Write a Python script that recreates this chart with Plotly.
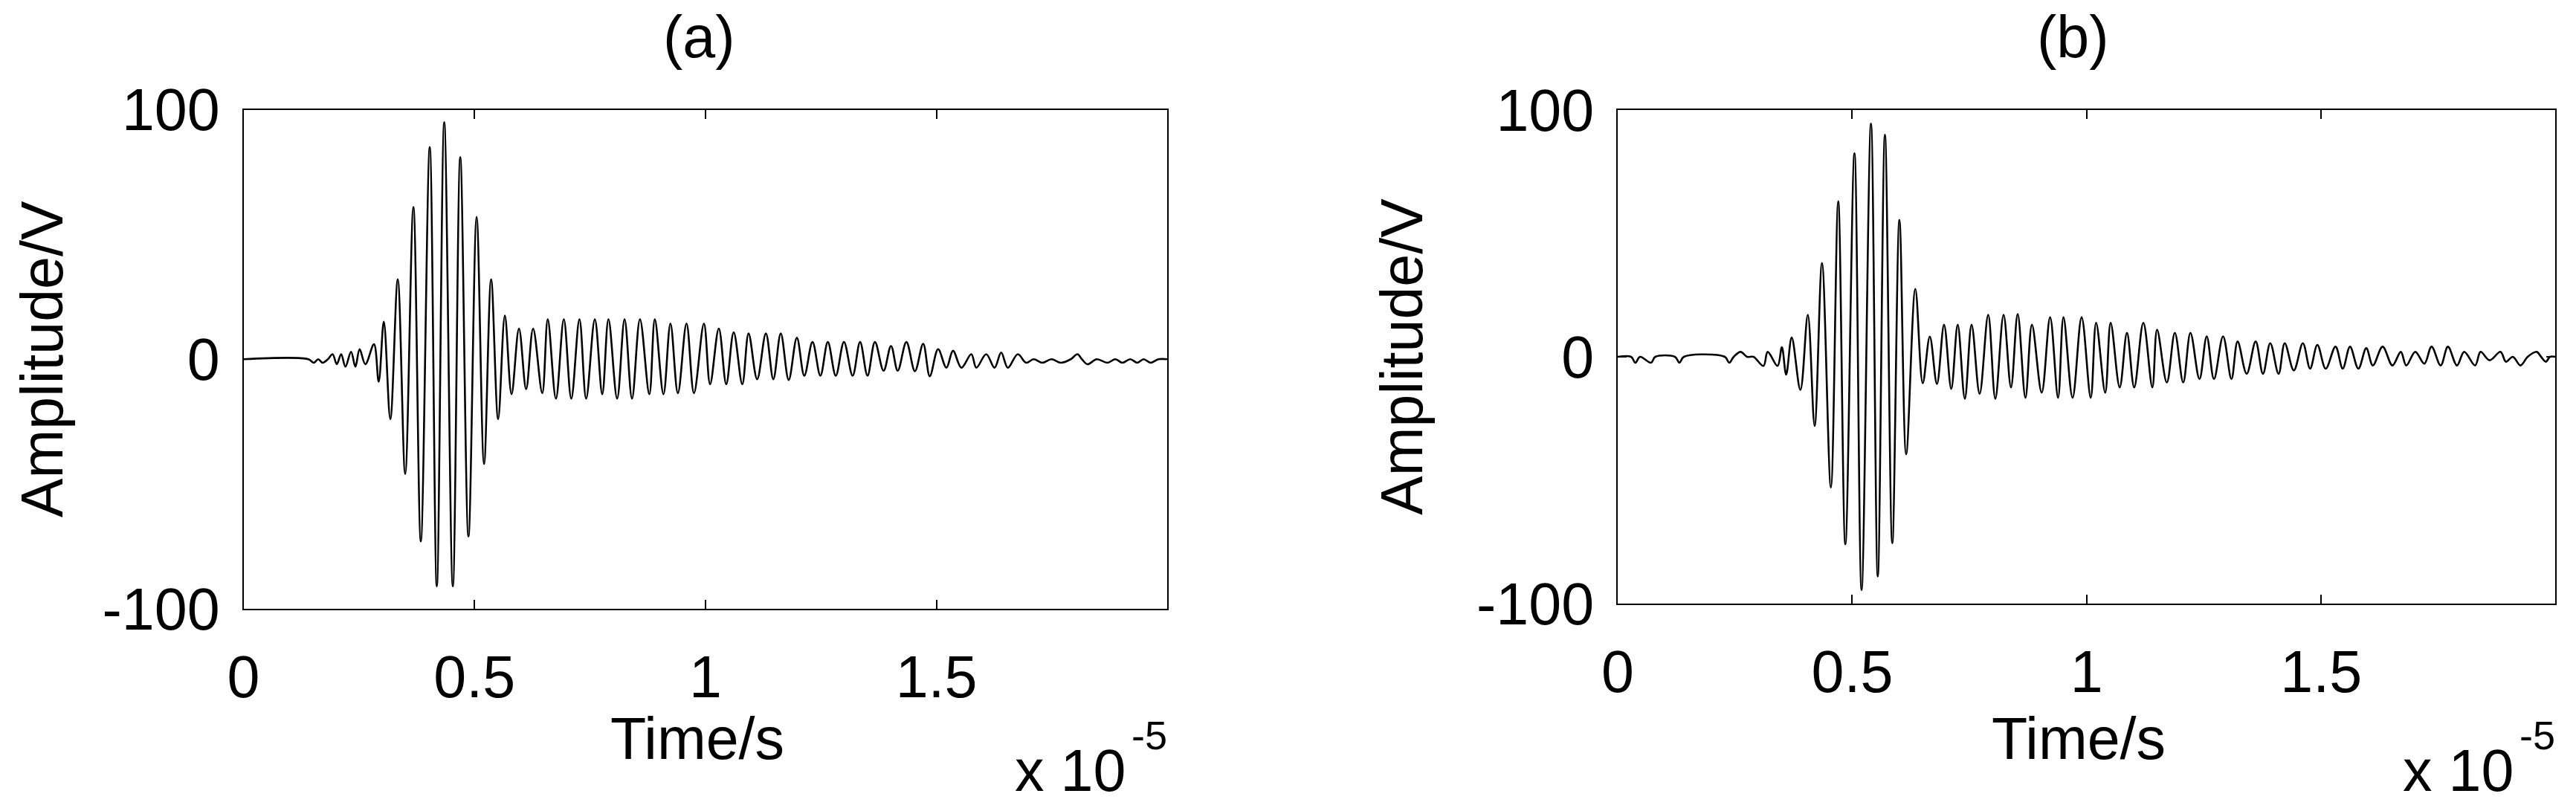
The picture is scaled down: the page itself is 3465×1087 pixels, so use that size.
import plotly.graph_objects as go

# ---- data: half-cycle peak times (microseconds) and amplitudes (V) ----
time_a_us = [0.000, 1.405, 1.521, 1.618, 1.714, 1.827, 1.929, 2.020, 2.114, 2.207, 2.329, 2.423, 2.514, 2.638,
             2.825, 2.927, 3.038, 3.179, 3.340, 3.501, 3.678, 3.839, 4.032, 4.185, 4.346, 4.532, 4.693, 4.870,
             5.047, 5.208, 5.361, 5.513, 5.658, 5.803, 5.964, 6.119, 6.270, 6.468, 6.587, 6.764, 6.935, 7.096,
             7.273, 7.418, 7.606, 7.767, 7.901, 8.089, 8.250, 8.411, 8.583, 8.786, 8.905, 9.092, 9.243, 9.404,
             9.591, 9.752, 9.968, 10.101, 10.290, 10.451, 10.612, 10.798, 10.934, 11.120, 11.309, 11.470,
             11.631, 11.803, 11.980, 12.141, 12.318, 12.489, 12.650, 12.822, 12.999, 13.187, 13.348, 13.509,
             13.670, 13.857, 14.018, 14.163, 14.351, 14.535, 14.714, 14.857, 15.037, 15.217, 15.360, 15.541,
             15.756, 15.864, 16.079, 16.259, 16.402, 16.547, 16.762, 16.943, 17.104, 17.297, 17.490, 17.696,
             17.909, 18.054, 18.150, 18.271, 18.472, 18.702, 18.875, 19.026, 19.197, 19.350, 19.486, 19.636,
             19.808, 19.995]
amp_a = [0, 0, -1.4, 0, -1.4, 0, 2, -2, 2, -3, 3, -3, 4, -2,
         6, -9, 15, -24, 32, -46, 61, -73, 85, -91, 95, -91, 81, -71,
         57, -42, 32, -24, 17.5, -14, 12.3, -12, 12.3, -13.6, 16, -15.8, 16, -15.8,
         16, -15.8, 16, -14, 16, -15.8, 16, -15.8, 16, -14, 16, -14, 14.3, -13.6,
         14.3, -13.6, 14.3, -10, 12.3, -10, 10.8, -10, 10.3, -8, 10.3, -8,
         10.3, -8.3, 8.6, -6.6, 6.9, -6.6, 6.9, -6.6, 6.9, -6.6, 6.9, -6.6,
         6.9, -4.6, 5.3, -4.6, 6.9, -4.8, 6.2, -6.8, 4, -3.4, 3.4, -3.4,
         2, -3.4, 2, -3.4, 2.7, -3.4, 2, -1.4, 0, -1.4, 0, -1.4,
         0, 2, 0, -2, 0, -1.4, 0, -1.4, 0, -1.4, 0, -1.4,
         0, 0]

time_b_us = [0.000, 0.285, 0.376, 0.476, 0.710, 0.801, 1.221, 1.316, 1.411, 2.283, 2.378, 2.473, 2.621, 2.758,
             2.895, 3.107, 3.198, 3.408, 3.500, 3.592, 3.710, 3.895, 4.054, 4.199, 4.356, 4.545, 4.702, 4.854,
             5.048, 5.200, 5.400, 5.545, 5.698, 5.855, 6.007, 6.151, 6.346, 6.504, 6.655, 6.807, 6.959, 7.112,
             7.250, 7.402, 7.546, 7.717, 7.900, 8.052, 8.228, 8.386, 8.529, 8.694, 8.833, 9.041, 9.220, 9.390,
             9.505, 9.699, 9.892, 10.086, 10.201, 10.395, 10.511, 10.704, 10.859, 11.013, 11.208, 11.400,
             11.501, 11.709, 11.880, 12.058, 12.212, 12.405, 12.560, 12.714, 12.908, 13.087, 13.218, 13.412,
             13.603, 13.759, 13.914, 14.092, 14.223, 14.417, 14.610, 14.764, 14.919, 15.097, 15.306, 15.460,
             15.615, 15.793, 15.962, 16.102, 16.311, 16.519, 16.698, 16.814, 17.007, 17.200, 17.354, 17.548,
             17.703, 17.896, 18.050, 18.283, 18.399, 18.592, 18.824, 18.940, 19.087, 19.249, 19.404, 19.597,
             19.689, 19.791, 19.880, 19.990]
amp_b = [0, 0, -2.4, 0, -2.4, 0, 0, -2.4, 0, 0, -2.4, 0, 2, 0,
         0, -3.7, 2, -3.7, 3.9, -7.2, 7.8, -13.4, 17, -28, 38, -53, 63, -76,
         82.5, -94.5, 94.5, -89, 90, -75.5, 55.5, -39.5, 27.5, -10.7, 8.2, -11, 13, -13,
         13, -17, 13, -15, 17, -17, 17, -12.4, 17.3, -16.6, 13, -14.5, 16, -16.6,
         16, -16.6, 16, -16.6, 13.8, -14.5, 13.8, -12.4, 9.7, -12.4, 13.8, -12.4,
         11, -10.4, 9.7, -10.4, 9.7, -9, 8.3, -9, 8.3, -9, 6.2, -6.9,
         6.2, -6.9, 5.5, -6.9, 5.5, -5.5, 5.5, -4.8, 4.8, -4.8, 4.1, -4.8,
         4.1, -4.8, 3.5, -3.5, 4.1, -3.5, 2, -3.5, 2, -2.8, 4.1, -3.5,
         4.1, -3.5, 2, -3.5, 2, -1.4, 2, -2, 0, -3.5, 0, 2,
         0, -2, 0, 0]

x_tick_values = [0, 0.5e-5, 1.0e-5, 1.5e-5]
x_tick_labels = ["0", "0.5", "1", "1.5"]
y_tick_values = [-100, 0, 100]
y_tick_labels = ["-100", "0", "100"]
panel_titles = ["(a)", "(b)"]
x_label = "Time/s"
y_label = "Amplitude/V"

W, H = 3465, 1087
FONT = "Liberation Sans, Arial, sans-serif"
FS = 79

fig = go.Figure()
fig.add_trace(go.Scatter(x=[t * 1e-6 for t in time_a_us], y=amp_a, mode="lines",
                         line=dict(color="black", width=2.6, shape="spline", smoothing=1),
                         xaxis="x", yaxis="y", showlegend=False, hoverinfo="skip"))
fig.add_trace(go.Scatter(x=[t * 1e-6 for t in time_b_us], y=amp_b, mode="lines",
                         line=dict(color="black", width=2.6, shape="spline", smoothing=1),
                         xaxis="x2", yaxis="y2", showlegend=False, hoverinfo="skip"))

def px_x(p):
    return p / W

def px_y(p):
    return (H - p) / H

axis_common = dict(showline=True, linecolor="black", linewidth=2, mirror="ticks",
                   ticks="inside", ticklen=12, tickwidth=2, tickcolor="black",
                   showgrid=False, zeroline=False, automargin=False,
                   tickfont=dict(family=FONT, size=FS, color="black"))

panels = [
    dict(x0=327.5, x1=1569.6, y0=147.5, y1=819.0, title_x=940, xlabel_x=938, ylabel_x=56),
    dict(x0=2176.0, x1=3437.0, y0=148.0, y1=812.0, title_x=2788, xlabel_x=2796, ylabel_x=1886),
]

layout = dict(width=W, height=H, autosize=False, margin=dict(l=0, r=0, t=0, b=0, pad=0),
              paper_bgcolor="white", plot_bgcolor="white", showlegend=False)
for i, p in enumerate(panels):
    sx = "" if i == 0 else "2"
    layout["xaxis" + sx] = dict(axis_common, domain=[px_x(p["x0"]), px_x(p["x1"])],
                                range=[0, 1.999e-5], tickvals=x_tick_values, ticktext=x_tick_labels,
                                anchor="y" + sx, ticklabelstandoff=22)
    layout["yaxis" + sx] = dict(axis_common, domain=[px_y(p["y1"]), px_y(p["y0"])],
                                range=[-100, 100], tickvals=y_tick_values, ticktext=y_tick_labels,
                                anchor="x" + sx, ticklabelstandoff=14)
fig.update_layout(**layout)

ann = []
for i, p in enumerate(panels):
    cy = (p["y0"] + p["y1"]) / 2
    ann.append(dict(text=panel_titles[i], x=px_x(p["title_x"]), y=px_y(50), xref="paper", yref="paper",
                    xanchor="center", yanchor="middle", showarrow=False,
                    font=dict(family=FONT, size=FS, color="black")))
    ann.append(dict(text=x_label, x=px_x(p["xlabel_x"]), y=px_y(993), xref="paper", yref="paper",
                    xanchor="center", yanchor="middle", showarrow=False,
                    font=dict(family=FONT, size=FS, color="black")))
    ann.append(dict(text=y_label, x=px_x(p["ylabel_x"]), y=px_y(cy), xref="paper", yref="paper",
                    xanchor="center", yanchor="middle", showarrow=False, textangle=-90,
                    font=dict(family=FONT, size=FS, color="black")))
    ann.append(dict(text="x 10", x=px_x(p["x1"] - 207), y=px_y(1036), xref="paper", yref="paper",
                    xanchor="left", yanchor="middle", showarrow=False,
                    font=dict(family=FONT, size=FS, color="black")))
    ann.append(dict(text="-5", x=px_x(p["x1"] - 50), y=px_y(989), xref="paper", yref="paper",
                    xanchor="left", yanchor="middle", showarrow=False,
                    font=dict(family=FONT, size=54, color="black")))
fig.update_layout(annotations=ann)

fig.write_html("out.html", config={"displayModeBar": False},
               post_script="document.body.style.margin='0px';document.body.style.overflow='hidden';")
